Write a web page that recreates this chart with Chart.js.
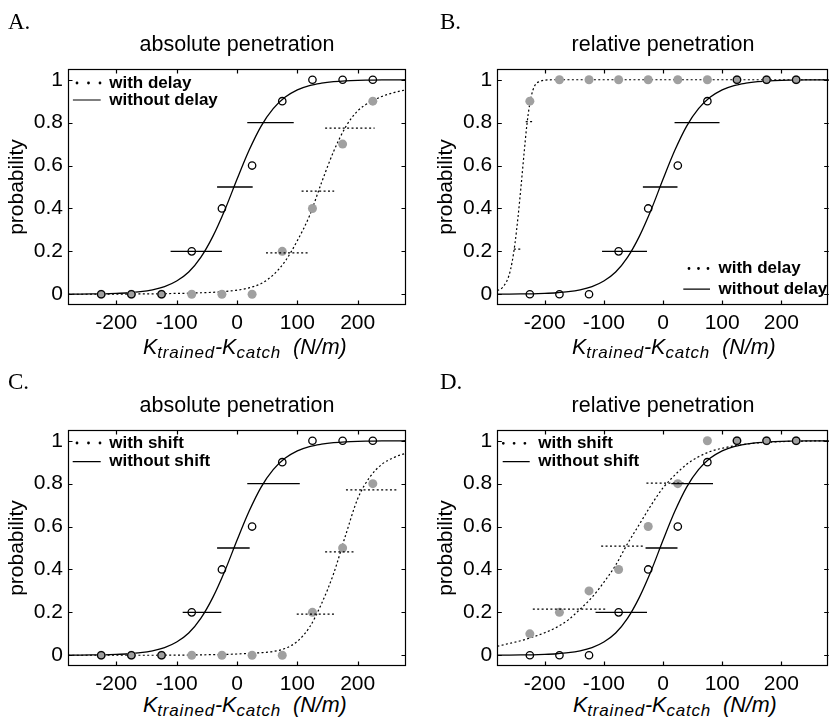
<!DOCTYPE html>
<html><head><meta charset="utf-8">
<script src="https://cdn.jsdelivr.net/npm/chart.js@4.4.1/dist/chart.umd.min.js"></script>
<style>
html,body{margin:0;padding:0;background:#fff;overflow:hidden;width:829px;height:721px;}
#wrap{position:relative;width:829px;height:721px;overflow:hidden;background:#fff;}
canvas{position:absolute;}
.lab{position:absolute;font-family:'Liberation Serif','Times New Roman',serif;font-size:23px;line-height:23px;color:#000;}
.xt{position:absolute;font-family:'Liberation Sans',Arial,Helvetica,sans-serif;font-style:italic;font-size:21.5px;line-height:21px;white-space:nowrap;color:#000;}
.xt sub{font-size:17px;letter-spacing:0.8px;vertical-align:-4px;line-height:0;}
</style></head><body><div id="wrap">
<canvas id="cA" width="414" height="330" style="left:0;top:0"></canvas>
<canvas id="cB" width="420" height="330" style="left:414px;top:0"></canvas>
<canvas id="cC" width="414" height="330" style="left:0;top:361px"></canvas>
<canvas id="cD" width="420" height="330" style="left:414px;top:361px"></canvas>
<div class="lab" style="left:8px;top:10px">A.</div>
<div class="lab" style="left:440px;top:10px">B.</div>
<div class="lab" style="left:8px;top:370px">C.</div>
<div class="lab" style="left:440px;top:370px">D.</div>
<div class="xt" style="left:143px;top:337px">K<sub>trained</sub>-K<sub>catch</sub>&nbsp; (N/m)</div>
<div class="xt" style="left:572px;top:337px">K<sub>trained</sub>-K<sub>catch</sub>&nbsp; (N/m)</div>
<div class="xt" style="left:143px;top:695px">K<sub>trained</sub>-K<sub>catch</sub>&nbsp; (N/m)</div>
<div class="xt" style="left:573px;top:695px">K<sub>trained</sub>-K<sub>catch</sub>&nbsp; (N/m)</div>
</div>
<script>
// ---------- data ----------
const xCats = [-225,-175,-125,-75,-25,25,75,125,175,225];
const xTicks = [-200,-100,0,100,200];
const yTicks = [0,0.2,0.4,0.6,0.8,1];

const withoutVals  = [0,0,0,0.2,0.4,0.6,0.9,1,1,1];
const withDelayAbs = [0,0,0,0,0,0,0.2,0.4,0.7,0.9];
const withDelayRel = [0.9,1,1,1,1,1,1,1,1,1];
const withShiftAbs = [0,0,0,0,0,0,0,0.2,0.5,0.8];
const withShiftRel = [0.1,0.2,0.3,0.4,0.6,0.8,1,1,1,1];

const curveX = [-280,-260,-240,-220,-200,-180,-160,-140,-120,-100,-80,-60,-40,-20,0,20,40,60,80,100,120,140,160,180,200,220,240,260,280];
const fitWithout  = [0.0005,0.001,0.0015,0.002,0.004,0.007,0.012,0.021,0.036,0.062,0.104,0.172,0.27,0.394,0.536,0.671,0.784,0.865,0.919,0.953,0.973,0.984,0.991,0.995,0.997,0.998,0.999,0.999,1.0];
const fitDelayAbs = [0,0,0,0,0.001,0.001,0.002,0.002,0.003,0.004,0.005,0.007,0.009,0.013,0.019,0.03,0.05,0.09,0.155,0.25,0.365,0.52,0.665,0.78,0.855,0.895,0.922,0.94,0.953];
const fitShiftAbs = [0,0,0,0,0,0,0,0,0.001,0.001,0.001,0.002,0.003,0.004,0.006,0.009,0.012,0.018,0.032,0.065,0.13,0.24,0.38,0.56,0.73,0.83,0.89,0.922,0.942];
const fitShiftRel = [0.042,0.055,0.068,0.085,0.105,0.13,0.165,0.215,0.27,0.34,0.42,0.52,0.61,0.70,0.78,0.84,0.89,0.925,0.95,0.965,0.976,0.984,0.99,0.993,0.996,0.997,0.998,0.999,0.999];
const fitDelayRelX = [-280,-270,-260,-255,-250,-245,-240,-235,-230,-225,-220,-215,-210,-200,-180,-100,0,100,200,280];
const fitDelayRel  = [0.017,0.035,0.09,0.15,0.24,0.36,0.5,0.65,0.79,0.89,0.95,0.98,0.99,0.998,1,1,1,1,1,1];

// threshold bars: [x from, x to, probability]
const barsWithoutA = [[-110,-25,0.2],[-33,26,0.5],[17,94,0.8]];
const barsDelayA   = [[48,121,0.193],[107,161,0.481],[146,228,0.774]];
const barsWithoutB = [[-103,-27,0.2],[-34,24.5,0.5],[19.5,95.5,0.8]];
const barsDelayB   = [[-252,-238,0.21],[-232,-221,0.805]];
const barsWithoutC = [[-90,-26,0.2],[-33,21,0.5],[17,104,0.8]];
const barsShiftC   = [[99,163,0.192],[146,193,0.482],[180.5,264,0.771]];
const barsWithoutD = [[-114,-27,0.2],[-29.5,24.5,0.5],[14,84.5,0.8]];
const barsShiftD   = [[-220,-95,0.215],[-104.5,-31,0.509],[-28,35,0.802]];

const titles = ['absolute penetration','relative penetration','absolute penetration','relative penetration'];
const namesDelay = ['with delay','without delay'];
const namesShift = ['with shift','without shift'];

// ---------- drawing ----------
const FONT = "'Liberation Sans', Arial, Helvetica, sans-serif";
Chart.defaults.font.family = FONT;
Chart.defaults.color = '#000';

function pts(xs, ys){ return xs.map((x,i)=>({x:x, y:ys[i]})); }
function segs(bars){ const d=[]; bars.forEach(b=>{ d.push({x:b[0],y:b[2]},{x:b[1],y:b[2]},{x:b[1],y:null}); }); return d; }

const framePlugin = {
  id:'frame',
  afterDraw(chart){
    const {ctx, chartArea:a, scales} = chart;
    ctx.save();
    ctx.strokeStyle='#000'; ctx.lineWidth=1.2; ctx.setLineDash([]);
    ctx.strokeRect(Math.round(a.left)+0.5, Math.round(a.top)+0.5, Math.round(a.right-a.left)-1, Math.round(a.bottom-a.top)-1);
    const L=4.5;
    ctx.beginPath();
    scales.x.ticks.forEach(t=>{ const p=Math.round(scales.x.getPixelForValue(t.value))+0.5;
      ctx.moveTo(p,a.bottom); ctx.lineTo(p,a.bottom-L); ctx.moveTo(p,a.top); ctx.lineTo(p,a.top+L); });
    scales.y.ticks.forEach(t=>{ const p=Math.round(scales.y.getPixelForValue(t.value))+0.5;
      ctx.moveTo(a.left,p); ctx.lineTo(a.left+L,p); ctx.moveTo(a.right,p); ctx.lineTo(a.right-L,p); });
    ctx.stroke(); ctx.restore();
  }
};

function panel(id, o){
  const lg = o.legend;
  const fs = 17;
  const legendPlace = {
    id:'legendPlace',
    afterLayout(chart){
      const l = chart.legend; if(!l) return;
      l.left = lg.lineX - lg.pad; l.top = lg.mid - fs/2 - lg.pad;
      l.width = 300; l.height = 80; l.right = l.left + 300; l.bottom = l.top + 80;
    }
  };
  const datasets = [
    {label:o.names[1], data:pts(xCats, withoutVals), showLine:false, pointRadius:3.7, pointBorderWidth:1.3, pointBorderColor:'#000', pointBackgroundColor:'rgba(0,0,0,0)'},
    {label:'bars '+o.names[1], data:segs(o.barsWithout), showLine:true, borderColor:'#000', borderWidth:1.3, pointRadius:0, spanGaps:false},
    {label:'bars '+o.names[0], data:segs(o.barsWith), showLine:true, borderColor:'#000', borderWidth:1.2, borderDash:[2,2.4], pointRadius:0, spanGaps:false},
    {label:o.names[0], data:pts(xCats, o.withVals), showLine:false, pointRadius:4.5, pointBorderWidth:0, pointBackgroundColor:'#a0a0a0'},
    {label:'fit '+o.names[1], data:pts(curveX, fitWithout), showLine:true, borderColor:'#000', borderWidth:1.3, pointRadius:0, cubicInterpolationMode:'monotone'},
    {label:'fit '+o.names[0], data:pts(o.fitX, o.fitWith), showLine:true, borderColor:'#000', borderWidth:1.2, borderDash:[2,2.4], pointRadius:0, cubicInterpolationMode:'monotone'}
  ];
  new Chart(document.getElementById(id), {
    type:'scatter',
    data:{datasets},
    options:{
      responsive:false, animation:false, devicePixelRatio:1, events:[],
      layout:{padding:{left:0,right:o.padRight,top:0,bottom:0}},
      plugins:{
        tooltip:{enabled:false},
        title:{display:true, text:o.title, fullSize:false, font:{size:21.5, weight:'normal', family:FONT}, color:'#000', padding:{top:32,bottom:11.2}},
        legend:{
          display:true, position:'chartArea', align:'start',
          labels:{
            usePointStyle:true, pointStyle:'line', pointStyleWidth:lg.boxW, boxWidth:lg.boxW, boxHeight:fs,
            padding:lg.pad, color:'#000', font:{size:fs, weight:'bold', family:FONT},
            generateLabels:()=>lg.items.map((it,i)=>({text:o.names[i], fillStyle:'rgba(0,0,0,0)', strokeStyle:it.color||'#000', lineWidth:it.w, lineDash:it.dash||[], lineDashOffset:it.off||0, lineCap:it.cap||'butt', pointStyle:'line', hidden:false, fontColor:'#000', datasetIndex:i}))
          }
        }
      },
      scales:{
        x:{type:'linear', min:-280, max:280,
          afterBuildTicks:s=>{ s.ticks = xTicks.map(v=>({value:v})); },
          afterFit:s=>{ s.height = 25; },
          grid:{display:false, drawTicks:false, tickLength:0}, border:{display:false},
          ticks:{font:{size:21, family:FONT}, color:'#000', padding:5.4, autoSkip:false, maxRotation:0, minRotation:0, callback:v=>String(v)}
        },
        y:{type:'linear', min:-0.05, max:1.05,
          afterBuildTicks:s=>{ s.ticks = yTicks.map(v=>({value:v})); },
          afterFit:s=>{ s.width = o.yW; },
          grid:{display:false, drawTicks:false, tickLength:0}, border:{display:false},
          title:{display:true, text:'probability', font:{size:21, family:FONT}, color:'#000', padding:{top:o.yTitlePad, bottom:0}},
          ticks:{font:{size:21, family:FONT}, color:'#000', padding:5, autoSkip:false, callback:v=>String(v)}
        }
      }
    },
    plugins:[framePlugin, legendPlace]
  });
}

const dotItem = (dash, off)=>({w:2.8, dash:dash, off:off, cap:'round'});

panel('cA',{title:titles[0], names:namesDelay, withVals:withDelayAbs, fitX:curveX, fitWith:fitDelayAbs,
  barsWithout:barsWithoutA, barsWith:barsDelayA, yW:68, padRight:8, yTitlePad:4.4,
  legend:{lineX:72.7, mid:83, pad:0, boxW:28, items:[dotItem([0,11.5],-4.3), {w:1.3, color:'#555'}]}});
panel('cB',{title:titles[1], names:namesDelay, withVals:withDelayRel, fitX:fitDelayRelX, fitWith:fitDelayRel,
  barsWithout:barsWithoutB, barsWith:barsDelayB, yW:83.3, padRight:0, yTitlePad:19.9,
  legend:{lineX:269.3, mid:268.5, pad:3.7, boxW:26.7, items:[dotItem([0,9.5],-5.7), {w:1.3}]}});
panel('cC',{title:titles[2], names:namesShift, withVals:withShiftAbs, fitX:curveX, fitWith:fitShiftAbs,
  barsWithout:barsWithoutC, barsWith:barsShiftC, yW:68, padRight:8, yTitlePad:4.4,
  legend:{lineX:72.7, mid:82, pad:1.7, boxW:28, items:[dotItem([0,11.5],-4.3), {w:1.3}]}});
panel('cD',{title:titles[3], names:namesShift, withVals:withShiftRel, fitX:curveX, fitWith:fitShiftRel,
  barsWithout:barsWithoutD, barsWith:barsShiftD, yW:83.3, padRight:0, yTitlePad:19.9,
  legend:{lineX:88.7, mid:82.3, pad:1.4, boxW:27, items:[dotItem([0,10.8],-0.6), {w:1.3}]}});
</script>
</body></html>
